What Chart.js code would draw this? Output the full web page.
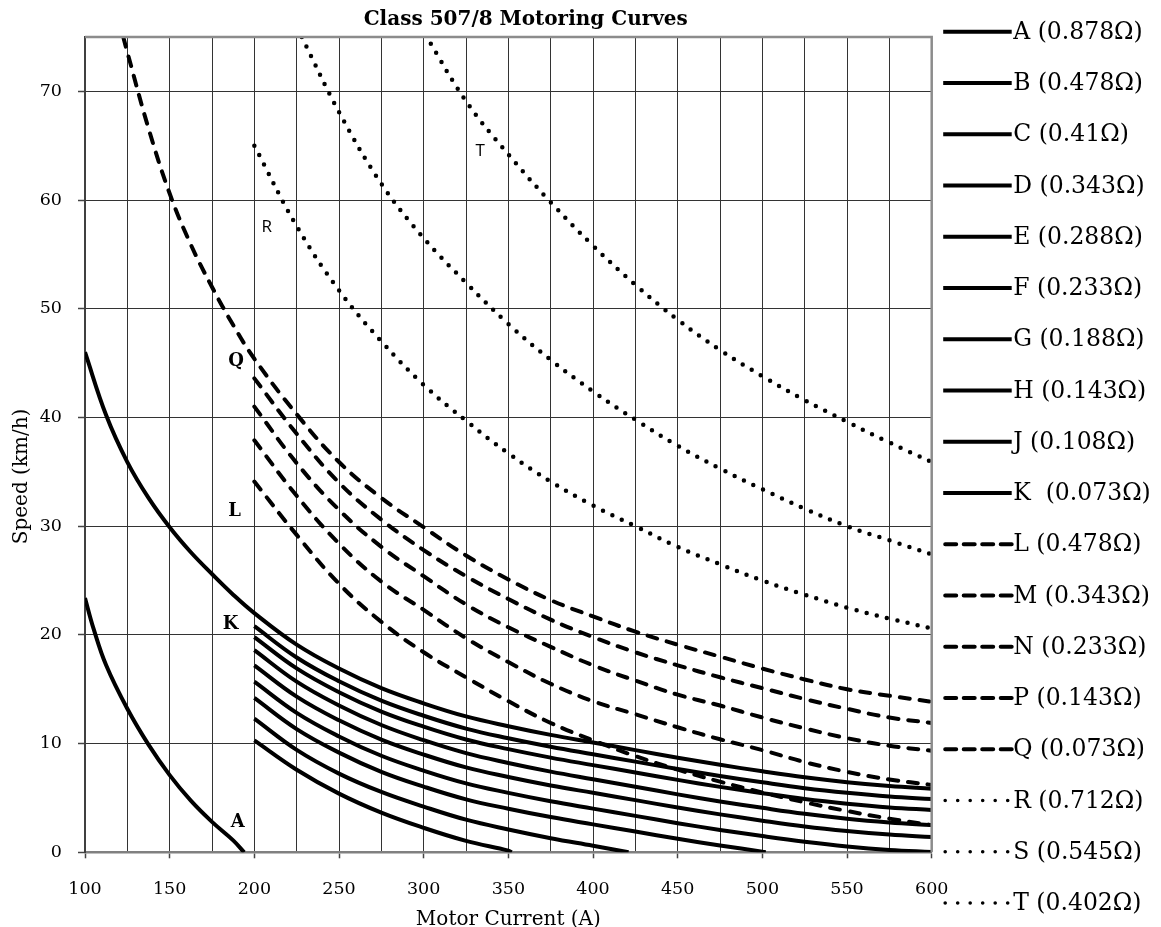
<!DOCTYPE html>
<html>
<head>
<meta charset="utf-8">
<script src="https://cdn.jsdelivr.net/npm/chart.js@4.4.1/dist/chart.umd.min.js"></script>
<style>
html,body{margin:0;padding:0;background:#fff;overflow:hidden;}
#wrap{position:relative;width:1161px;height:940px;}
</style>
</head>
<body>
<div id="wrap"><canvas id="c"></canvas></div>
<script>
// ---------- text ----------
const chartTitle = 'Class 507/8 Motoring Curves';
const xAxisTitle = 'Motor Current (A)';
const yAxisTitle = 'Speed (km/h)';

// ---------- ticks ----------
const currentGridTicks = [100,125,150,175,200,225,250,275,300,325,350,375,400,425,450,475,500,525,550,575,600];
const currentTickLabels = [100,150,200,250,300,350,400,450,500,550,600];
const speedTicks = [0,10,20,30,40,50,60,70];

// ---------- series names ----------
const seriesNames = ['A (0.878Ω)','B (0.478Ω)','C (0.41Ω)','D (0.343Ω)','E (0.288Ω)','F (0.233Ω)','G (0.188Ω)','H (0.143Ω)','J (0.108Ω)','K  (0.073Ω)',
  'L (0.478Ω)','M (0.343Ω)','N (0.233Ω)','P (0.143Ω)','Q (0.073Ω)','R (0.712Ω)','S (0.545Ω)','T (0.402Ω)'];
const seriesKinds = ['solid','solid','solid','solid','solid','solid','solid','solid','solid','solid',
  'dashed','dashed','dashed','dashed','dashed','dotted','dotted','dotted'];

// ---------- data: motor current (A) ----------
const currentA = [100,105,112.5,125,137.5,150,162.5,175,187.5,194];
const currentB = [200,225,250,275,300,325,350,352];
const currentC = [200,225,250,275,300,325,350,375,400,421];
const currentD = [200,225,250,275,300,325,350,375,400,425,450,475,500,502];
const currentStd = [200,225,250,275,300,325,350,375,400,425,450,475,500,525,550,575,600];
const currentK = [100,112.5,125,137.5,150,162.5,175,187.5,200,225,250,275,300,325,350,375,400,425,450,475,500,525,550,575,600];
const currentQ = [122.6,125,137.5,150,162.5,175,187.5,200,225,250,275,300,325,350,375,400,425,450,475,500,525,550,575,600];
const currentS = [228,250,275,300,325,350,375,400,425,450,475,500,525,550,575,600];
const currentT = [301,325,350,375,400,425,450,475,500,525,550,575,600];

// ---------- data: speed (km/h) ----------
const speedA = [23.4,20.6,17.2,13.2,9.9,7.1,4.75,2.8,1.1,0];
const speedB = [10.3,7.6,5.4,3.65,2.25,1.05,0.15,0];
const speedC = [12.3,9.42,7.24,5.55,4.2,3.0,2.1,1.3,0.6,0];
const speedD = [14.2,11.33,9.17,7.4,6.04,4.87,4.01,3.24,2.57,1.91,1.24,0.63,0.06,0];
const speedE = [15.7,12.83,10.66,8.88,7.51,6.34,5.47,4.7,4.02,3.35,2.68,2.06,1.49,0.97,0.54,0.22,0.02];
const speedF = [17.2,14.32,12.14,10.37,8.99,7.81,6.93,6.15,5.47,4.8,4.12,3.49,2.91,2.38,1.96,1.63,1.4];
const speedG = [18.6,15.7,13.51,11.71,10.31,9.12,8.22,7.42,6.72,6.03,5.33,4.68,4.09,3.54,3.09,2.75,2.5];
const speedH = [19.8,16.92,14.73,12.95,11.56,10.38,9.49,8.71,8.02,7.34,6.66,6.02,5.44,4.9,4.47,4.13,3.9];
const speedJ = [20.8,17.92,15.73,13.95,12.56,11.38,10.49,9.71,9.02,8.34,7.66,7.02,6.44,5.9,5.47,5.13,4.9];
const speedK = [46.0,40.2,35.9,32.6,29.9,27.6,25.6,23.7,22.0,19.1,16.9,15.1,13.7,12.5,11.6,10.8,10.1,9.4,8.7,8.05,7.45,6.9,6.45,6.1,5.85];
const speedL = [34.1,29.2,24.7,21.2,18.4,16.1,13.9,11.9,10.3,8.85,7.6,6.5,5.5,4.6,3.8,3.1,2.5];
const speedM = [37.9,32.8,28.4,24.9,22.3,19.7,17.5,15.5,13.9,12.7,11.5,10.4,9.4,8.3,7.4,6.7,6.2];
const speedN = [41.0,35.8,31.5,28.1,25.4,22.8,20.7,18.9,17.2,15.8,14.5,13.5,12.4,11.4,10.5,9.8,9.35];
const speedP = [43.6,38.5,34.0,30.6,27.8,25.4,23.3,21.4,19.8,18.4,17.2,16.1,15.1,14.1,13.2,12.4,11.9];
const speedQ = [75,73.6,66.6,60.6,55.9,52.0,48.5,45.4,40.3,35.9,32.6,29.9,27.3,25.1,23.2,21.7,20.3,19.1,18.0,16.9,15.9,15.0,14.4,13.85];
const speedR = [65.0,57.6,51.7,47.0,43.0,39.7,36.7,34.1,31.9,30.0,28.1,26.5,25.0,23.7,22.5,21.5,20.6];
const speedS = [75,68.1,61.5,56.5,52.4,48.6,45.3,42.4,39.8,37.4,35.3,33.4,31.6,30.0,28.7,27.4];
const speedT = [75.2,69.1,64.2,59.8,55.8,52.2,49.0,46.2,43.8,41.6,39.6,37.7,35.9];

const seriesX = [currentA,currentB,currentC,currentD,currentStd,currentStd,currentStd,currentStd,currentStd,currentK,
  currentStd,currentStd,currentStd,currentStd,currentQ,currentStd,currentS,currentT];
const seriesY = [speedA,speedB,speedC,speedD,speedE,speedF,speedG,speedH,speedJ,speedK,
  speedL,speedM,speedN,speedP,speedQ,speedR,speedS,speedT];

// ---------- curve annotations (data coordinates) ----------
const curveLabels = [
  {text:'A', x:190.2, y:2.8, bold:true},
  {text:'K', x:185.9, y:21.0, bold:true},
  {text:'L', x:188.4, y:31.4, bold:true},
  {text:'Q', x:189.2, y:45.2, bold:true},
  {text:'R', x:207.3, y:57.5, bold:false},
  {text:'T', x:333.3, y:64.5, bold:false}
];

const SERIF = "'DejaVu Serif', serif";

const kindStyle = {
  solid:  {borderWidth:4,   borderDash:[],       borderCapStyle:'butt'},
  dashed: {borderWidth:4,   borderDash:[10,10],  borderCapStyle:'round'},
  dotted: {borderWidth:4.5, borderDash:[0,10.5], borderCapStyle:'round'}
};

const datasets = seriesNames.map((name,i)=>{
  const st = kindStyle[seriesKinds[i]];
  return Object.assign({
    label:name,
    lineKind:seriesKinds[i],
    data: seriesX[i].map((x,j)=>({x:x, y:seriesY[i][j]})),
    borderColor:'#000',
    backgroundColor:'#000',
    fill:false,
    pointRadius:0,
    pointHoverRadius:0,
    tension:0.4,
    capBezierPoints:false,
    borderJoinStyle:'round'
  }, st);
});

const framePlugin = {
  id:'frame',
  afterDatasetsDraw(chart){
    const {ctx, chartArea:ca} = chart;
    ctx.save();
    ctx.strokeStyle = '#8c8c8c';
    ctx.lineWidth = 2.5;
    ctx.setLineDash([]);
    ctx.beginPath();
    ctx.moveTo(ca.left, ca.top);
    ctx.lineTo(ca.right, ca.top);
    ctx.lineTo(ca.right, ca.bottom);
    ctx.stroke();
    ctx.restore();
  }
};

const labelPlugin = {
  id:'curveLabels',
  afterDatasetsDraw(chart){
    const {ctx, scales} = chart;
    ctx.save();
    ctx.fillStyle = '#000';
    ctx.textAlign = 'center';
    ctx.textBaseline = 'middle';
    curveLabels.forEach(l=>{
      ctx.font = l.bold ? "bold 18px " + SERIF : "17px 'Open Sans', sans-serif";
      ctx.fillText(l.text, scales.x.getPixelForValue(l.x), scales.y.getPixelForValue(l.y));
    });
    ctx.restore();
  }
};

const legendPlugin = {
  id:'sideLegend',
  afterDraw(chart){
    const {ctx, chartArea:ca} = chart;
    const x0 = ca.right + 11.5;
    const tx = x0 + 70;
    const top = 31.7, step = 51.25;
    ctx.save();
    ctx.font = "23.5px " + SERIF;
    ctx.fillStyle = '#000';
    ctx.strokeStyle = '#000';
    ctx.textAlign = 'left';
    ctx.textBaseline = 'middle';
    chart.data.datasets.forEach((ds,i)=>{
      const y = top + i*step;
      ctx.beginPath();
      if (ds.lineKind === 'solid') {
        ctx.setLineDash([]); ctx.lineWidth = 4; ctx.lineCap = 'butt';
        ctx.moveTo(x0, y); ctx.lineTo(x0 + 68.5, y);
      } else if (ds.lineKind === 'dashed') {
        ctx.setLineDash([11,7.5]); ctx.lineWidth = 4; ctx.lineCap = 'round';
        ctx.moveTo(x0 + 2, y); ctx.lineTo(x0 + 68.5, y);
      } else {
        ctx.setLineDash([0,12.5]); ctx.lineWidth = 3.6; ctx.lineCap = 'round';
        ctx.moveTo(x0 + 2, y); ctx.lineTo(x0 + 65, y);
      }
      ctx.stroke();
      ctx.fillText(ds.label, tx, y + 1);
    });
    ctx.restore();
  }
};

new Chart(document.getElementById('c'), {
  type:'line',
  data:{datasets},
  options:{
    responsive:true,
    maintainAspectRatio:false,
    animation:false,
    events:[],
    layout:{padding:{left:0,right:229.3,top:0,bottom:0}},
    plugins:{
      legend:{display:false},
      tooltip:{enabled:false},
      title:{
        display:true,
        text:'     ' + chartTitle,
        fullSize:false,
        color:'#000',
        font:{family:SERIF, size:20, weight:'bold'},
        padding:{top:7.6, bottom:5.4}
      }
    },
    scales:{
      x:{
        type:'linear', min:100, max:600,
        afterFit:(s)=>{ s.height = 87.7; },
        afterBuildTicks:(s)=>{ s.ticks = currentGridTicks.map(v=>({value:v})); },
        ticks:{
          autoSkip:false, maxRotation:0, minRotation:0, padding:21,
          color:'#000', font:{family:SERIF, size:17.5},
          callback:(v)=> currentTickLabels.includes(v) ? String(v) : ''
        },
        grid:{
          color:'#333', lineWidth:1, tickLength:6, tickWidth:1.5,
          tickColor:(c)=> (c.tick && currentTickLabels.includes(c.tick.value)) ? '#444' : 'rgba(0,0,0,0)'
        },
        border:{color:'#808080', width:2.5},
        title:{display:true, text:xAxisTitle, color:'#000', font:{family:SERIF, size:20}, padding:{top:0, bottom:8.5}}
      },
      y:{
        type:'linear', min:0, max:75,
        afterFit:(s)=>{ s.width = 85; },
        afterBuildTicks:(s)=>{ s.ticks = speedTicks.map(v=>({value:v})); },
        ticks:{padding:16, color:'#000', font:{family:SERIF, size:17.5}},
        grid:{color:'#333', lineWidth:1, tickLength:7, tickWidth:1.5, tickColor:'#444'},
        border:{color:'#404040', width:2},
        title:{display:true, text:yAxisTitle + '          ', color:'#000', font:{family:SERIF, size:20}, padding:{top:10, bottom:0}}
      }
    }
  },
  plugins:[framePlugin, labelPlugin, legendPlugin]
});
</script>
</body>
</html>
